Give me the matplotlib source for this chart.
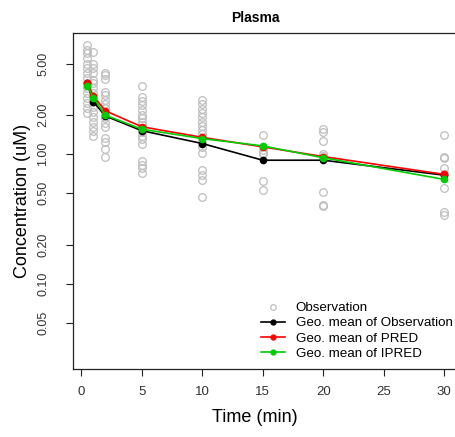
import numpy as np
import matplotlib.pyplot as plt
from matplotlib.lines import Line2D

plt.rcParams['font.family'] = ['Liberation Sans', 'DejaVu Sans']

# sampling times (min)
times = [0.5, 1, 2, 5, 10, 15, 20, 30]

# individual observations per time point (uM)
obs_conc = [
    [6.94, 6.35, 5.99, 5.48, 5.0, 4.59, 4.20, 3.85, 3.52, 3.23, 2.95, 2.70, 2.47, 2.26, 2.07],
    [6.16, 5.0, 4.59, 4.20, 3.73, 3.52, 3.23, 2.95, 2.78, 2.54, 2.32, 2.12, 1.95, 1.78, 1.63, 1.50, 1.39],
    [4.24, 4.08, 3.78, 3.03, 2.86, 2.62, 2.44, 2.26, 2.07, 1.89, 1.73, 1.61, 1.33, 1.25, 1.09, 0.95],
    [3.36, 2.78, 2.59, 2.40, 2.19, 2.01, 1.89, 1.78, 1.68, 1.58, 1.49, 1.38, 1.30, 1.21, 0.88, 0.83, 0.78, 0.72],
    [2.64, 2.44, 2.25, 2.07, 1.92, 1.78, 1.66, 1.54, 1.43, 1.33, 1.23, 1.14, 1.03, 0.76, 0.69, 0.63, 0.47],
    [1.41, 1.08, 1.03, 1.0, 0.62, 0.53],
    [1.56, 1.49, 1.27, 1.00, 0.97, 0.51, 0.41, 0.40],
    [1.41, 0.96, 0.93, 0.79, 0.70, 0.55, 0.36, 0.34],
]

# geometric means
gm_obs = [3.52, 2.54, 1.97, 1.52, 1.21, 0.90, 0.90, 0.69]
gm_pred = [3.55, 2.81, 2.16, 1.63, 1.35, 1.14, 0.96, 0.70]
gm_ipred = [3.36, 2.73, 2.00, 1.56, 1.32, 1.16, 0.94, 0.64]

yticks = [0.05, 0.1, 0.2, 0.5, 1, 2, 5]
ytick_labels = ["0.05", "0.10", "0.20", "0.50", "1.00", "2.00", "5.00"]
xticks = [0, 5, 10, 15, 20, 25, 30]

fig = plt.figure(figsize=(4.55, 4.37), dpi=100)
ax = fig.add_axes([73 / 455, 68 / 437, 385.6 / 455, 336 / 437])

obs_x = np.concatenate([[t] * len(c) for t, c in zip(times, obs_conc)])
obs_y = np.concatenate(obs_conc)
ax.plot(obs_x, obs_y, 'o', mfc='none', mec='#bebebe', ms=5.5, mew=0.9, zorder=2)

ax.plot(times, gm_obs, '-o', color='black', lw=1.2, ms=4.5, zorder=3)
ax.plot(times, gm_pred, '-o', color='#ff0000', lw=1.2, ms=4.5, zorder=4)
ax.plot(times, gm_ipred, '-o', color='#00cc00', lw=1.2, ms=4.5, zorder=5)

ax.set_yscale('log')
ax.set_ylim(0.0222, 8.59)
ax.set_xlim(-0.68, 31.18)
ax.set_yticks(yticks)
ax.set_yticklabels(ytick_labels, rotation=90, va='center')
ax.minorticks_off()
ax.set_xticks(xticks)
ax.tick_params(axis='both', direction='out', length=5, width=0.8, colors='#222222', labelcolor='#333333')
ax.tick_params(axis='x', labelsize=9.5, pad=7)
ax.tick_params(axis='y', labelsize=9, pad=12)
for s in ax.spines.values():
    s.set_linewidth(0.9)
    s.set_color('#222222')
ax.spines['right'].set_visible(False)

ax.set_xlabel("Time (min)", fontsize=13)
ax.set_ylabel("Concentration (uM)", fontsize=13)
ax.xaxis.set_label_coords(0.5 - 10.8 / 385.6, -0.143)
ax.yaxis.set_label_coords(-0.132, 0.5)
ax.xaxis.label.set_va('center')
ax.yaxis.label.set_va('center')

fig.text(255 / 455, 1 - 18 / 437, "Plasma", fontsize=10, fontweight='bold', ha='center', va='center')

handles = [
    Line2D([], [], ls='none', marker='o', mfc='none', mec='#bebebe', ms=4, mew=0.9),
    Line2D([], [], color='black', marker='o', lw=1.2, ms=3.5),
    Line2D([], [], color='#ff0000', marker='o', lw=1.2, ms=3.5),
    Line2D([], [], color='#00cc00', marker='o', lw=1.2, ms=3.5),
]
labels = ["Observation", "Geo. mean of Observation", "Geo. mean of PRED", "Geo. mean of IPRED"]
ax.legend(handles, labels, loc='lower left', bbox_to_anchor=((261 - 73) / 385.6, (369 - 360) / 336),
          frameon=False, fontsize=9.6, handlelength=1.8, handletextpad=0.8, labelspacing=0.22,
          borderaxespad=0, borderpad=0)

fig.savefig("out.png", dpi=100)
